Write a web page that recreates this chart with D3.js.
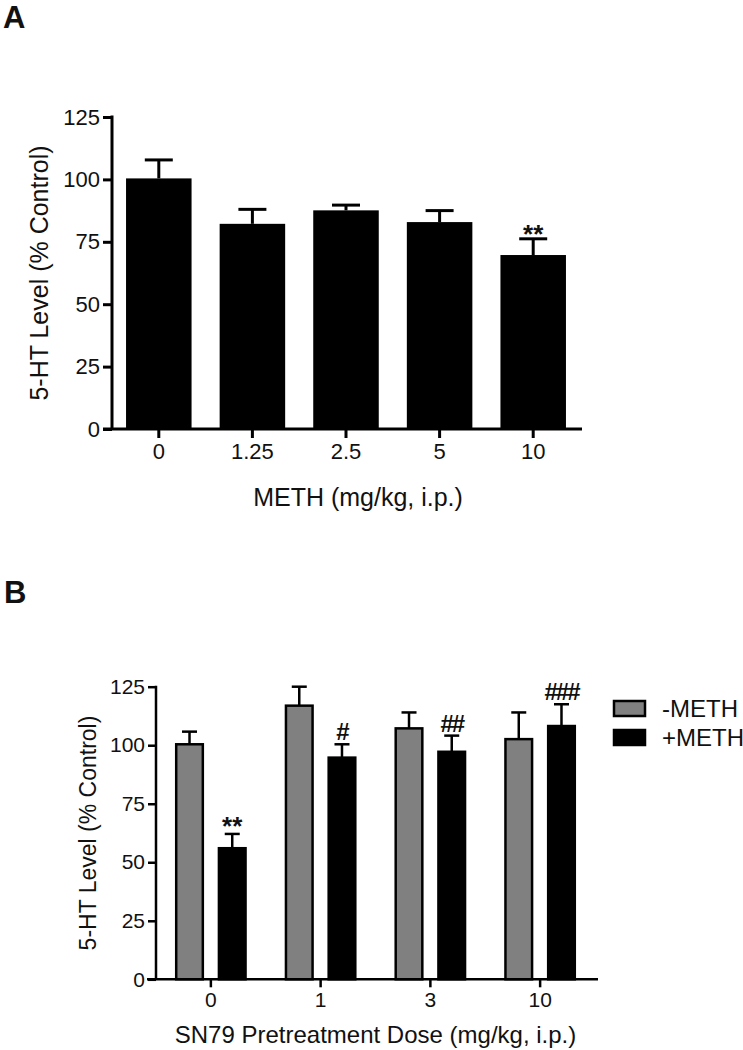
<!DOCTYPE html>
<html>
<head>
<meta charset="utf-8">
<script src="https://cdn.jsdelivr.net/npm/d3@7"></script>
<style>
  body { margin: 0; background: #fff; }
  text { font-family: "Liberation Sans", Arial, sans-serif; fill: #111; }
</style>
</head>
<body>
<svg id="fig" width="743" height="1050"></svg>
<script>
// ---- panel A: METH dose response
const doseA = ['0', '1.25', '2.5', '5', '10'];
const meanA = [100.4, 82.2, 87.6, 82.9, 69.7];
const semA = [7.4, 5.8, 2.1, 4.6, 6.5];
const sigA = ['', '', '', '', '**'];

// ---- panel B: SN79 pretreatment
const doseB = ['0', '1', '3', '10'];
const groupsB = ['-METH', '+METH'];
const minusMeth = [100.4, 116.9, 107.2, 102.6];
const minusSem = [5.4, 8.1, 6.8, 11.4];
const plusMeth = [56.0, 94.7, 97.2, 108.2];
const plusSem = [6.1, 5.7, 6.9, 9.3];
const sigB = ['**', '#', '##', '###'];

const yTicks = [0, 25, 50, 75, 100, 125];
const colors = {'-METH': '#808080', '+METH': '#000'};

const svg = d3.select('#fig');

function styleAxis(g, w, fs) {
  g.selectAll('path.domain').remove();
  g.selectAll('line').attr('stroke', '#000').attr('stroke-width', w);
  g.selectAll('text').style('font-size', fs + 'px').attr('fill', '#111');
}

// ---------------- Panel A ----------------
function drawA() {
  const left = 112, right = 580, top = 117, bottom = 429;
  const y = d3.scaleLinear().domain([0, 125]).range([bottom, top]);
  const x = d3.scaleBand().domain(doseA).range([left, right])
    .paddingInner(0.3).paddingOuter(0.15);
  const g = svg.append('g');

  g.append('text').attr('x', 3).attr('y', 28)
    .style('font-size', '31px').style('font-weight', 'bold').text('A');

  const rows = doseA.map((d, i) => ({d, m: meanA[i], s: semA[i], sig: sigA[i]}));

  g.selectAll('rect.bar').data(rows).enter().append('rect')
    .attr('class', 'bar')
    .attr('x', r => x(r.d))
    .attr('width', x.bandwidth())
    .attr('y', r => y(r.m))
    .attr('height', r => y(0) - y(r.m))
    .attr('fill', '#000');

  const cx = r => x(r.d) + x.bandwidth() / 2;
  const err = g.selectAll('g.err').data(rows).enter().append('g');
  err.append('line')
    .attr('x1', cx).attr('x2', cx)
    .attr('y1', r => y(r.m)).attr('y2', r => y(r.m + r.s))
    .attr('stroke', '#000').attr('stroke-width', 3);
  err.append('line')
    .attr('x1', r => cx(r) - 14).attr('x2', r => cx(r) + 14)
    .attr('y1', r => y(r.m + r.s)).attr('y2', r => y(r.m + r.s))
    .attr('stroke', '#000').attr('stroke-width', 3);
  err.append('text')
    .attr('x', cx).attr('y', r => y(r.m + r.s) + 4)
    .attr('text-anchor', 'middle')
    .style('font-size', '26px').style('font-weight', 'bold')
    .text(r => r.sig);

  // axes
  const ya = g.append('g').attr('transform', `translate(${left},0)`)
    .call(d3.axisLeft(y).tickValues(yTicks).tickSize(9).tickPadding(3));
  styleAxis(ya, 3, 22);
  g.append('line').attr('x1', left).attr('x2', left)
    .attr('y1', y(125) - 1.5).attr('y2', y(0))
    .attr('stroke', '#000').attr('stroke-width', 3);

  const xa = g.append('g').attr('transform', `translate(0,${bottom})`)
    .call(d3.axisBottom(x).tickSize(9).tickPadding(5));
  styleAxis(xa, 3, 22);
  g.append('line').attr('x1', left - 9).attr('x2', right + 2)
    .attr('y1', y(0)).attr('y2', y(0))
    .attr('stroke', '#000').attr('stroke-width', 3);

  g.append('text')
    .attr('transform', `translate(48,${(top + bottom) / 2}) rotate(-90)`)
    .attr('text-anchor', 'middle')
    .style('font-size', '25px')
    .text('5-HT Level (% Control)');

  g.append('text')
    .attr('x', (left + right) / 2 + 12).attr('y', 506)
    .attr('text-anchor', 'middle')
    .style('font-size', '25px')
    .text('METH (mg/kg, i.p.)');
}

// ---------------- Panel B ----------------
function drawB() {
  const left = 156, right = 595, top = 686.7, bottom = 979.3;
  const y = d3.scaleLinear().domain([0, 125]).range([bottom, top]);
  const x0 = d3.scaleBand().domain(doseB).range([left, right])
    .paddingInner(0.35).paddingOuter(0.175);
  const x1 = d3.scaleBand().domain(groupsB).range([0, x0.bandwidth()])
    .paddingInner(0.33);
  const g = svg.append('g');

  g.append('text').attr('x', 4).attr('y', 603)
    .style('font-size', '31px').style('font-weight', 'bold').text('B');

  const rows = [];
  doseB.forEach((d, i) => {
    rows.push({d, grp: '-METH', m: minusMeth[i], s: minusSem[i], sig: ''});
    rows.push({d, grp: '+METH', m: plusMeth[i], s: plusSem[i], sig: sigB[i]});
  });

  const bx = r => x0(r.d) + x1(r.grp);
  const cx = r => bx(r) + x1.bandwidth() / 2;
  const isHash = r => r.sig[0] === '#';

  const err = g.selectAll('g.err').data(rows).enter().append('g');
  err.append('line')
    .attr('x1', cx).attr('x2', cx)
    .attr('y1', r => y(r.m)).attr('y2', r => y(r.m + r.s))
    .attr('stroke', '#000').attr('stroke-width', 2.5);
  err.append('line')
    .attr('x1', r => cx(r) - 7.5).attr('x2', r => cx(r) + 7.5)
    .attr('y1', r => y(r.m + r.s)).attr('y2', r => y(r.m + r.s))
    .attr('stroke', '#000').attr('stroke-width', 2.5);
  err.append('text')
    .attr('x', cx).attr('y', r => y(r.m + r.s) - (isHash(r) ? 4 : -1))
    .attr('text-anchor', 'middle')
    .style('font-size', r => isHash(r) ? '24px' : '26px')
    .style('font-weight', 'bold')
    .style('letter-spacing', r => isHash(r) ? '-2px' : '0px')
    .text(r => r.sig);

  g.selectAll('rect.bar').data(rows).enter().append('rect')
    .attr('class', 'bar')
    .attr('x', r => bx(r) + 1)
    .attr('width', x1.bandwidth() - 2)
    .attr('y', r => y(r.m))
    .attr('height', r => y(0) - y(r.m))
    .attr('fill', r => colors[r.grp])
    .attr('stroke', '#000').attr('stroke-width', 2.5);

  // axes
  const ya = g.append('g').attr('transform', `translate(${left},0)`)
    .call(d3.axisLeft(y).tickValues(yTicks).tickSize(8).tickPadding(3));
  styleAxis(ya, 2.5, 21);
  g.append('line').attr('x1', left).attr('x2', left)
    .attr('y1', y(125) - 1).attr('y2', y(0))
    .attr('stroke', '#000').attr('stroke-width', 2.5);

  const xa = g.append('g').attr('transform', `translate(0,${bottom})`)
    .call(d3.axisBottom(x0).tickSize(8).tickPadding(5));
  styleAxis(xa, 2.5, 21);
  g.append('line').attr('x1', left - 9).attr('x2', right + 3)
    .attr('y1', y(0)).attr('y2', y(0))
    .attr('stroke', '#000').attr('stroke-width', 2.5);

  g.append('text')
    .attr('transform', `translate(96,${(top + bottom) / 2}) rotate(-90)`)
    .attr('text-anchor', 'middle')
    .style('font-size', '23px')
    .text('5-HT Level (% Control)');

  g.append('text')
    .attr('x', (left + right) / 2).attr('y', 1043)
    .attr('text-anchor', 'middle')
    .style('font-size', '24px')
    .text('SN79 Pretreatment Dose (mg/kg, i.p.)');

  // legend
  const leg = g.selectAll('g.leg').data(groupsB).enter().append('g')
    .attr('transform', (d, i) => `translate(614,${701 + i * 29})`);
  leg.append('rect')
    .attr('width', 31).attr('height', 15)
    .attr('fill', d => colors[d])
    .attr('stroke', '#000').attr('stroke-width', 2.5);
  leg.append('text')
    .attr('x', 48).attr('y', 16)
    .style('font-size', '24px')
    .text(d => d);
}

drawA();
drawB();
</script>
</body>
</html>
